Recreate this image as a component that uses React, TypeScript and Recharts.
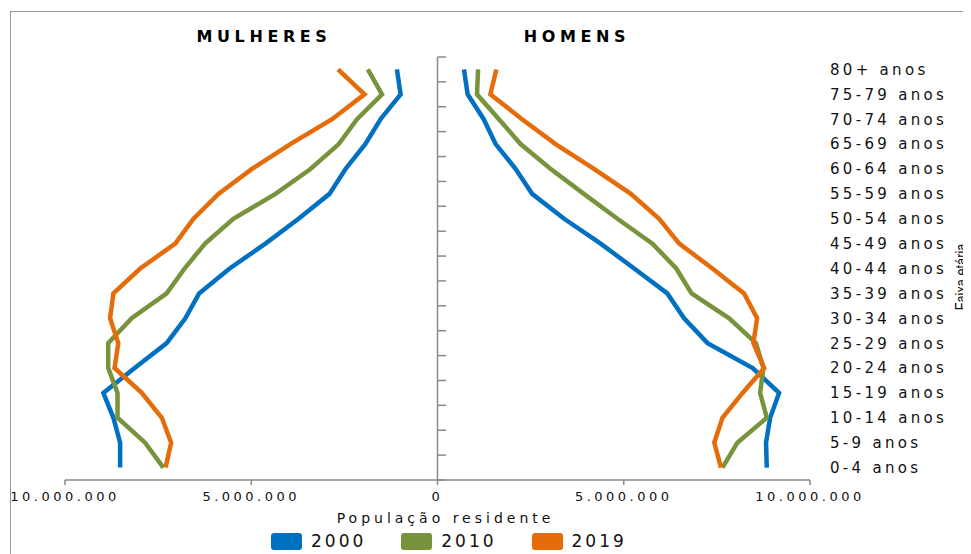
import React from 'react';
import {Legend, Line, LineChart, ReferenceLine, XAxis, YAxis} from 'recharts';

// faixas etárias, de baixo para cima
const ageGroups = [
    '0-4 anos', '5-9 anos', '10-14 anos', '15-19 anos', '20-24 anos', '25-29 anos',
    '30-34 anos', '35-39 anos', '40-44 anos', '45-49 anos', '50-54 anos', '55-59 anos',
    '60-64 anos', '65-69 anos', '70-74 anos', '75-79 anos', '80+ anos'
];

const years = ['2000', '2010', '2019'];
const colors = ['#0070C0', '#77933C', '#E46C0A'];

// população residente, em milhões
const women2000 = [8.52, 8.52, 8.70, 8.97, 8.13, 7.27, 6.77, 6.40, 5.58, 4.62, 3.73, 2.90, 2.47, 1.94, 1.53, 0.99, 1.09];
const women2010 = [7.36, 7.85, 8.59, 8.59, 8.84, 8.84, 8.21, 7.27, 6.79, 6.24, 5.48, 4.35, 3.41, 2.65, 2.16, 1.49, 1.87];
const women2019 = [7.30, 7.15, 7.40, 7.94, 8.67, 8.57, 8.79, 8.70, 7.98, 7.04, 6.55, 5.88, 4.98, 3.95, 2.83, 1.96, 2.67];

const men2000 = [8.84, 8.82, 8.93, 9.17, 8.46, 7.25, 6.62, 6.17, 5.28, 4.38, 3.40, 2.54, 2.10, 1.56, 1.24, 0.81, 0.71];
const men2010 = [7.65, 8.05, 8.84, 8.66, 8.75, 8.55, 7.83, 6.82, 6.41, 5.77, 4.83, 3.93, 3.04, 2.23, 1.65, 1.06, 1.09];
const men2019 = [7.61, 7.43, 7.65, 8.19, 8.77, 8.48, 8.58, 8.23, 7.38, 6.49, 5.95, 5.19, 4.20, 3.17, 2.27, 1.42, 1.58];

const xTicks = [-10000000, -5000000, 0, 5000000, 10000000];

const M = 1000000;
const data = ageGroups.map((age, i) => ({
    age,
    pos: i + 0.5,
    w2000: -women2000[i] * M,
    w2010: -women2010[i] * M,
    w2019: -women2019[i] * M,
    m2000: men2000[i] * M,
    m2010: men2010[i] * M,
    m2019: men2019[i] * M,
}));

const yTicks = ageGroups.map((_, i) => i + 0.5);
const boundaries = ageGroups.map((_, i) => i).concat(ageGroups.length);

const FONT = '"DejaVu Sans", Verdana, sans-serif';
const AXIS_GRAY = '#8a8a8a';
const TICK_LEN = 230000;

const fmt = (v: number) => String(Math.abs(v)).replace(/\B(?=(\d{3})+(?!\d))/g, '.');

const XTick = ({x, y, payload}: any) => (
    <text x={x} y={y} dy="0.75em" textAnchor="middle" fontFamily={FONT} fontSize={13}
          letterSpacing={3.5} fill="#111">
        {fmt(payload.value)}
    </text>
);

const YTick = ({x, y, payload}: any) => {
    const idx = Math.floor(payload.value);
    return (
        <text x={x} y={y} dy="0.36em" textAnchor="start" fontFamily={FONT} fontSize={15}
              letterSpacing={3.3} fill="#111">
            {ageGroups[idx]}
        </text>
    );
};

// só as séries dos homens entram na legenda (as das mulheres repetem as cores)
const LegendContent = ({payload}: any) => (
    <div style={{display: 'flex', alignItems: 'center', height: 20, fontFamily: FONT}}>
        {(payload || []).filter((p: any) => String(p.dataKey).startsWith('m')).map((p: any) => (
            <div key={p.value} style={{display: 'flex', alignItems: 'center', marginRight: 35}}>
                <span style={{
                    display: 'inline-block', width: 31, height: 17, borderRadius: 3,
                    background: p.color, marginRight: 9
                }}/>
                <span style={{fontSize: 17, letterSpacing: 3, color: '#111'}}>{p.value}</span>
            </div>
        ))}
    </div>
);

const titleStyle: React.CSSProperties = {
    position: 'absolute', top: 15, fontFamily: FONT, fontWeight: 'bold', fontSize: 16,
    letterSpacing: 4.6, color: '#000', transform: 'translateX(-50%)', whiteSpace: 'nowrap'
};

export default function App() {
    return (
        <div style={{
            position: 'relative', marginLeft: 2, marginTop: 3, width: 960, height: 542,
            borderTop: '1px solid #999', borderLeft: '1px solid #999', overflow: 'hidden'
        }}>
            <style>{'body{overflow:hidden}'}</style>
            <div style={{...titleStyle, left: 253}}>MULHERES</div>
            <div style={{...titleStyle, left: 566}}>HOMENS</div>
            <LineChart width={958} height={542} data={data} layout="vertical"
                       margin={{top: 45, right: 9, bottom: 4, left: 54}}>
                <XAxis type="number" domain={[-10000000, 10000000]} ticks={xTicks}
                       tick={<XTick/>} height={50}
                       axisLine={{stroke: AXIS_GRAY, strokeWidth: 1.5}}
                       tickLine={{stroke: AXIS_GRAY, strokeWidth: 1.5}} tickSize={5} tickMargin={6}
                       label={{
                           content: ({viewBox}: any) => (
                               <text x={viewBox.x + viewBox.width / 2 + 8} y={viewBox.y + 38}
                                     dominantBaseline="central" textAnchor="middle" fontFamily={FONT}
                                     fontSize={14} letterSpacing={4} fill="#111">
                                   População residente
                               </text>
                           )
                       }}/>
                <YAxis type="number" dataKey="pos" domain={[0, ageGroups.length]} ticks={yTicks}
                       reversed orientation="right" width={150} axisLine={false} tickLine={false}
                       tickSize={0} tickMargin={20} tick={<YTick/>} interval={0}/>
                <ReferenceLine x={0} stroke={AXIS_GRAY} strokeWidth={1.5}/>
                {boundaries.map(b => (
                    <ReferenceLine key={b} segment={[{x: 0, y: b}, {x: TICK_LEN, y: b}]}
                                   stroke={AXIS_GRAY} strokeWidth={1.5} ifOverflow="visible"/>
                ))}
                <Line dataKey="w2000" stroke={colors[0]} strokeWidth={4.5} dot={false}
                      legendType="none" isAnimationActive={false}/>
                <Line dataKey="w2010" stroke={colors[1]} strokeWidth={4.5} dot={false}
                      legendType="none" isAnimationActive={false}/>
                <Line dataKey="w2019" stroke={colors[2]} strokeWidth={4.5} dot={false}
                      legendType="none" isAnimationActive={false}/>
                <Line dataKey="m2000" name={years[0]} stroke={colors[0]} strokeWidth={4.5} dot={false}
                      isAnimationActive={false}/>
                <Line dataKey="m2010" name={years[1]} stroke={colors[1]} strokeWidth={4.5} dot={false}
                      isAnimationActive={false}/>
                <Line dataKey="m2019" name={years[2]} stroke={colors[2]} strokeWidth={4.5} dot={false}
                      isAnimationActive={false}/>
                <Legend verticalAlign="bottom" height={20} content={<LegendContent/>}
                        wrapperStyle={{left: 260, top: 519, width: 440, height: 20}}/>
            </LineChart>
            <div style={{
                position: 'absolute', left: 950, top: 265, fontFamily: '"Liberation Sans", Arial, sans-serif',
                fontSize: 17, lineHeight: '17px', color: '#111',
                transform: 'translate(-50%, -50%) rotate(-90deg) scaleX(0.75)', whiteSpace: 'nowrap', zIndex: 5
            }}>
                Faixa etária
            </div>
        </div>
    );
}
